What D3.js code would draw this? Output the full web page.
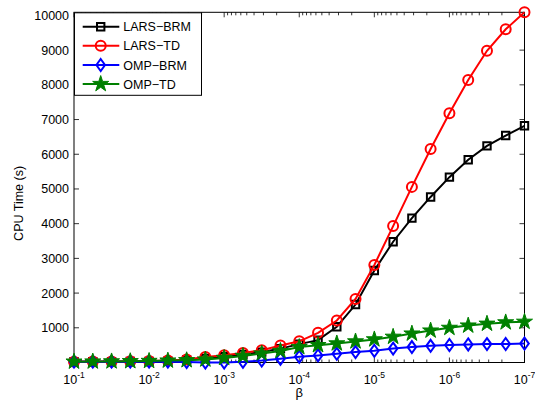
<!DOCTYPE html>
<html>
<head>
<meta charset="utf-8">
<script src="https://cdn.jsdelivr.net/npm/d3@7"></script>
<style>
  body { margin: 0; background: #fff; }
  text { font-family: "Liberation Sans", Arial, sans-serif; }
</style>
</head>
<body>
<div id="root"></div>
<script>
const width = 535;
const height = 400;

// beta values (x), 4 points per decade
const betas = [1e-1, 5.62e-2, 3.16e-2, 1.78e-2, 1e-2, 5.62e-3, 3.16e-3, 1.78e-3, 1e-3,
	5.62e-4, 3.16e-4, 1.78e-4, 1e-4, 5.62e-5, 3.16e-5, 1.78e-5, 1e-5,
	5.62e-6, 3.16e-6, 1.78e-6, 1e-6, 5.62e-7, 3.16e-7, 1.78e-7, 1e-7];

// CPU time (s) per method
const larsBrm = [20, 22, 25, 28, 32, 40, 75, 120, 170, 230, 300, 400, 530, 645, 1030, 1670, 2650, 3480, 4160, 4770, 5340, 5840, 6240, 6540, 6820];
const larsTd = [25, 28, 32, 38, 45, 60, 86, 160, 210, 277, 354, 490, 610, 855, 1210, 1830, 2810, 3930, 5060, 6150, 7180, 8140, 8980, 9600, 10090];
const ompBrm = [25, 25, 25, 25, 25, 25, 15, 0, 0, 20, 55, 110, 165, 205, 250, 300, 338, 400, 445, 480, 505, 520, 530, 532, 545];
const ompTd = [25, 28, 32, 38, 45, 55, 66, 86, 133, 190, 259, 334, 445, 500, 550, 607, 666, 741, 833, 920, 998, 1064, 1117, 1156, 1173];

const seriesNames = ["LARS−BRM", "LARS−TD", "OMP−BRM", "OMP−TD"];
const seriesColors = ["#000000", "#ff0000", "#0000ff", "#008000"];
const seriesMarkers = ["square", "circle", "diamond", "star"];

const yTicks = [1000, 2000, 3000, 4000, 5000, 6000, 7000, 8000, 9000, 10000];
const xTickExps = [1, 2, 3, 4, 5, 6, 7];

const margin = {left: 74, right: 10.5, top: 12.3, bottom: 37.5};

const x = d3.scaleLog()
	.domain([1e-1, 1e-7])
	.range([margin.left, width - margin.right]);

const y = d3.scaleLinear()
	.domain([0, 10090])
	.range([height - margin.bottom, margin.top]);

const svg = d3.select("#root")
	.append("svg")
		.attr("width", width)
		.attr("height", height);

// markers
const markerPath = (type) => {
	if (type === "square") return "M-3.7,-3.7H3.7V3.7H-3.7Z";
	if (type === "diamond") return "M0,-6L4.3,0L0,6L-4.3,0Z";
	if (type === "star") return d3.symbol(d3.symbolStar, 80)();
	return d3.symbol(d3.symbolCircle, Math.PI * 25)();
};

// axes box + ticks
const plot = svg.append("g");
const x0 = x.range()[0], x1 = x.range()[1];
const yTop = y.range()[1], yBot = y.range()[0];

const minorTicks = [];
xTickExps.slice(0, -1).forEach(e => {
	for (let m = 2; m <= 9; m++) minorTicks.push(m * Math.pow(10, -e - 1));
});

plot.selectAll(".xminor")
	.data(minorTicks).enter()
	.append("g")
	.each(function(d) {
		const g = d3.select(this);
		g.append("line").attr("x1", x(d)).attr("x2", x(d)).attr("y1", yBot).attr("y2", yBot - 3);
		g.append("line").attr("x1", x(d)).attr("x2", x(d)).attr("y1", yTop).attr("y2", yTop + 3);
	})
	.selectAll("line").attr("stroke", "#000").attr("stroke-width", 0.8);

plot.selectAll(".xmajor")
	.data(xTickExps).enter()
	.append("g")
	.each(function(e) {
		const g = d3.select(this);
		const px = x(Math.pow(10, -e));
		g.append("line").attr("x1", px).attr("x2", px).attr("y1", yBot).attr("y2", yBot - 5);
		g.append("line").attr("x1", px).attr("x2", px).attr("y1", yTop).attr("y2", yTop + 5);
		const t = g.append("text")
			.attr("x", px - 10.7)
			.attr("y", yBot + 21.5)
			.style("font-size", "12.5px");
		t.append("tspan").text("10");
		t.append("tspan").attr("dy", -6).style("font-size", "8.5px").text("-" + e);
	})
	.selectAll("line").attr("stroke", "#000").attr("stroke-width", 0.8);

plot.selectAll(".ytick")
	.data(yTicks).enter()
	.append("g")
	.each(function(d) {
		const g = d3.select(this);
		g.append("line").attr("x1", x0).attr("x2", x0 + 5).attr("y1", y(d)).attr("y2", y(d));
		g.append("line").attr("x1", x1).attr("x2", x1 - 5).attr("y1", y(d)).attr("y2", y(d));
		g.append("text")
			.attr("x", x0 - 5)
			.attr("y", y(d) + 4.5)
			.attr("text-anchor", "end")
			.style("font-size", "12.5px")
			.text(d);
	})
	.selectAll("line").attr("stroke", "#000").attr("stroke-width", 0.8);

plot.append("rect")
	.attr("x", x0).attr("y", yTop)
	.attr("width", x1 - x0).attr("height", yBot - yTop)
	.attr("fill", "none").attr("stroke", "#000").attr("stroke-width", 1);

// axis labels
svg.append("text")
	.attr("x", (x0 + x1) / 2)
	.attr("y", 397)
	.attr("text-anchor", "middle")
	.style("font-size", "13px")
	.text("β");

svg.append("text")
	.attr("transform", `translate(23, ${ (yTop + yBot) / 2 + 16 }) rotate(-90)`)
	.attr("text-anchor", "middle")
	.style("font-size", "12.5px")
	.text("CPU Time (s)");

// series
const allSeries = [larsBrm, larsTd, ompBrm, ompTd];
const line = d3.line().x((d, i) => x(betas[i])).y(d => y(d));

allSeries.forEach((vals, si) => {
	const color = seriesColors[si];
	const g = svg.append("g");
	g.append("path")
		.attr("d", line(vals))
		.attr("fill", "none")
		.attr("stroke", color)
		.attr("stroke-width", 2);
	g.selectAll(".m")
		.data(vals).enter()
		.append("path")
			.attr("d", markerPath(seriesMarkers[si]))
			.attr("transform", (d, i) => `translate(${ x(betas[i]) }, ${ y(d) })`)
			.attr("fill", seriesMarkers[si] === "star" ? color : "none")
			.attr("stroke", color)
			.attr("stroke-width", seriesMarkers[si] === "star" ? 1 : 2);
});

// legend
const legend = svg.append("g");
legend.append("rect")
	.attr("x", x0 + 0.5).attr("y", yTop + 0.5)
	.attr("width", 127).attr("height", 82.5)
	.attr("fill", "#fff").attr("stroke", "#000").attr("stroke-width", 1);

const rowY = [26.7, 45.7, 65, 84];
seriesNames.forEach((name, i) => {
	const color = seriesColors[i];
	legend.append("line")
		.attr("x1", 82.7).attr("x2", 119.3)
		.attr("y1", rowY[i]).attr("y2", rowY[i])
		.attr("stroke", color).attr("stroke-width", 2);
	legend.append("path")
		.attr("d", markerPath(seriesMarkers[i]))
		.attr("transform", `translate(100.7, ${ rowY[i] })`)
		.attr("fill", seriesMarkers[i] === "star" ? color : "none")
		.attr("stroke", color)
		.attr("stroke-width", seriesMarkers[i] === "star" ? 1 : 2);
	legend.append("text")
		.attr("x", 123.3)
		.attr("y", rowY[i] + 4.5)
		.style("font-size", "12.5px")
		.text(name);
});
</script>
</body>
</html>
